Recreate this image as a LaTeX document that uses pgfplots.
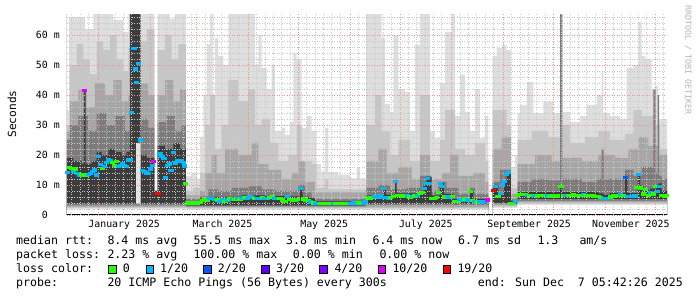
\documentclass[border=0pt]{standalone}
\usepackage{fontspec}
\usepackage{pgfplots}
\pgfplotsset{compat=1.18}
\newfontfamily\rrd{DejaVu Sans Mono}
\definecolor{cA}{HTML}{DEDEDE}
\definecolor{cB}{HTML}{C6C6C6}
\definecolor{cC}{HTML}{A6A6A6}
\definecolor{cD}{HTML}{7C7C7C}
\definecolor{cE}{HTML}{3C3C3C}
\definecolor{hole}{HTML}{E6E6E6}
\definecolor{lossg}{HTML}{26FF00}
\definecolor{lossc}{HTML}{00B8FF}
\definecolor{lossb}{HTML}{0059FF}
\definecolor{lossv}{HTML}{5E00FF}
\definecolor{lossw}{HTML}{7E00FF}
\definecolor{lossm}{HTML}{DD00FF}
\definecolor{lossr}{HTML}{FF0000}
\definecolor{mgrid}{RGB}{225,150,150}
\definecolor{sgrid}{RGB}{200,200,200}
\definecolor{arrowred}{RGB}{150,30,30}
\definecolor{wm}{RGB}{180,180,180}
\newcommand\tickfont{\rrd\fontsize{9.9}{11}\selectfont}
\newcommand\legfont{\rrd\fontsize{11.6}{13}\selectfont}
\begin{document}
\begin{tikzpicture}
\useasboundingbox (0,0) rectangle (697pt,297pt);
\begin{axis}[
  at={(67pt,82pt)}, anchor=south west,
  scale only axis, width=600pt, height=201pt,
  xmin=-18.8, xmax=341.2, ymin=0, ymax=67,
  axis line style={draw=none},
  clip=true,
  axis on top,
  major tick length=0pt, minor tick length=0pt,
  xtick={15.5,74.5,135.5,196.5,258.5,319.5},
  xticklabels={January 2025,March 2025,May 2025,July 2025,September 2025,November 2025},
  xticklabel style={font=\tickfont, anchor=base, yshift=-13pt, inner sep=0pt},
  extra x ticks={0,31,59,90,120,151,181,212,243,273,304,334},
  extra x tick labels={},
  extra x tick style={xmajorgrids=true},
  minor xtick={-16,-11,-6,5,10,15,20,25,36,41,46,51,56,64,69,74,79,84,95,100,105,110,115,125,130,135,140,145,156,161,166,171,176,186,191,196,201,206,217,222,227,232,237,248,253,258,263,268,278,283,288,293,298,309,314,319,324,329,339},
  xminorgrids=true,
  ytick={0,10,20,30,40,50,60},
  yticklabels={0\phantom{~m},10 m,20 m,30 m,40 m,50 m,60 m},
  yticklabel style={font=\tickfont, anchor=east, inner sep=0pt, xshift=-7pt},
  minor ytick={2,4,6,8,12,14,16,18,22,24,26,28,32,34,36,38,42,44,46,48,52,54,56,58,62,64,66},
  ymajorgrids=true, yminorgrids=true,
  major grid style={mgrid, line width=0.6pt, dash pattern=on 0.8pt off 1.7pt},
  minor grid style={sgrid, line width=0.6pt, dash pattern=on 0.8pt off 1.7pt},
]
% ---- smoke: lightest band top
\addplot[const plot, fill=cA, draw=none] coordinates {
(-18.8,35) (-17.5,66) (-8,62) (-3,67) (9,65) (15,61) (18,67) (33.6,8) (35.5,67) (43,65.5) (46,67)
(52.5,13) (56,14) (59,12) (61,26) (63,40) (65,57) (67,67) (68.5,34) (70,59) (72,53) (75,50) (78,67)
(94,50) (96,60) (98,49) (101,42) (104,50) (106,28) (110,29) (112,26.7) (115,31) (117,54) (119,52)
(122,29) (125,33) (128,28) (131,17) (133.5,14.5) (136,29) (138,14.4) (144,13.3) (151,12.2) (155,15.6)
(157,12.2) (160.6,67) (170,59) (172,37) (175,34.4) (177,60) (180,42) (184,41) (187,28) (190,56.7)
(193,67) (199,28) (202,25.6) (205,44) (208,61) (212,67) (214,33) (217,46.7) (220,34.4) (223,28)
(226,42) (229,25.6) (232,33) (234,0) (236.6,53) (239,55.6) (242,56.7) (245,55) (247.5,16) (250,20)
(251.5,34) (253,36.7) (257,44.4) (261,34) (267,37.8) (273,34) (277,67) (278.4,34.4) (283,31) (289,33)
(293,36.7) (299,40) (302,47.8) (303,34) (307,33) (313,32) (317,49) (321,50) (324,64.4) (326,53)
(328,52) (332,42) (334,43) (336,32) (341.2,32)} \closedcycle;
% ---- band 2
\addplot[const plot, fill=cB, draw=none] coordinates {
(-18.8,30) (-17,50) (-13,57) (-9,52) (-5,47) (-1,58) (3,55) (7,60) (11,52) (15,48) (18,56) (25,58)
(29,62) (33.6,8) (35.5,55) (40,60) (44,52) (48,57) (52.5,8) (57,9) (61,14) (64,30) (67,40) (70,22)
(74,30) (78,45) (84,38) (90,42) (94,30) (98,32) (103,24) (108,18) (114,20) (119,30) (122,18) (128,17)
(131,9) (136,12) (138,8.5) (160.6,30) (166,40) (170,28) (175,20) (180,25) (187,18) (193,40) (199,18)
(205,25) (208,35) (214,22) (220,20) (226,24) (232,18) (234,0) (236.6,35) (245,30) (247.5,9)
(251.5,25) (260,28) (270,26) (277,30) (283,24) (292,26) (300,28) (307,25) (316,27) (321,35) (326,33)
(334,30) (337,22) (341.2,22)} \closedcycle;
% ---- band 3
\addplot[const plot, fill=cC, draw=none] coordinates {
(-18.8,28) (-17,38) (-12,42) (-7,36) (-2,44) (4,40) (9,45) (14,38) (18,40) (25,44) (30,40) (33.6,8)
(35.5,40) (40,45) (45,38) (49,42) (52.5,6.5) (61,8) (64,14) (68,20) (71,14) (76,22) (84,20) (92,24)
(96,17) (102,15) (110,12) (116,14) (120,18) (124,11) (130,7.5) (160.6,18) (168,22) (173,14) (180,16)
(188,12) (193,20) (199,12) (206,14) (211,20) (216,13) (225,14) (232,11) (234,0) (236.6,22) (242,26)
(247.5,7) (251.5,17) (262,20) (272,18) (277,19) (290,18) (300,20) (310,19) (318,22) (324,26) (330,23)
(336,20) (341.2,18)} \closedcycle;
% ---- band 4
\addplot[const plot, fill=cD, draw=none] coordinates {
(-18.8,25) (-17,30) (-12,33) (-6,28) (-1,34) (5,30) (10,33) (16,28) (19,30) (26,32) (30,29) (33.6,8)
(35.5,31) (41,33) (46,28) (50,30) (52.5,5.3) (61,6.2) (66,8.5) (72,8) (80,9) (90,9.5) (98,8.5) (106,8)
(114,8) (120,10) (124,7.5) (128,6) (130,5.3) (160.6,9) (168,10) (175,8.5) (185,9) (193,13) (199,8)
(204,11) (209,9) (216,7) (223,9) (226,7) (234,0) (236.6,11) (241,15) (247.5,5.2) (251.5,11) (260,12)
(270,11.5) (277,67) (278.4,12) (290,11) (299,12) (302,22) (303.2,12) (310,12) (316,15) (321,13)
(326,16) (333,42) (334.4,14) (335.5,40) (336.5,13) (338,12) (341.2,12)} \closedcycle;
% ---- darkest band
\addplot[const plot, fill=cE, draw=none] coordinates {
(-18.8,19) (-15,18) (-10,17) (-8.6,41.5) (-7.6,17) (-4,18) (-1,21) (2,20) (6,22) (10,21) (14,20)
(17,21) (19,67) (25.3,20) (29,19) (33.6,8) (35.5,23) (40,22) (45,24) (49,22) (52.5,4.6) (61,5.5)
(70,6) (86,6.5) (100,6.3) (114,6.2) (121,9) (122.5,6) (127,5.5) (130,4.5) (157,4.4) (161,6.5) (171,9)
(172.5,6.8) (178,11.5) (179,7.2) (192,8) (195,10) (197,12.8) (200,6.5) (205,10.8) (207.5,7) (213,5.3)
(217,5.8) (223,8.2) (225,5.3) (234,0) (236.6,9) (238,10) (240,7) (243,11.5) (245,14.5) (247.5,4.6)
(251.5,7.6) (277,9.8) (278.4,7.6) (300,7.2) (303,6.8) (307,7.4) (316,13) (317.4,7.3) (323.6,14)
(325,9.8) (327,8.2) (331,8.8) (334,10) (336,10.5) (338,8) (341.2,8)} \closedcycle;
% ---- light hole under the tall dark column
\addplot[const plot, fill=hole, draw=none] coordinates {(22.6,24) (25.3,24)} \closedcycle;
% ---- lower edge of the smoke
\addplot[const plot, fill=cD, draw=none] coordinates {
(-18.8,3.8) (52.5,3.2) (160.6,3.8) (234,0) (236.6,4.0) (248,3.2) (251.5,5.3) (341.2,5.3)} \closedcycle;
\addplot[const plot, fill=cC, draw=none] coordinates {
(-18.8,3.2) (52.5,2.9) (160.6,3.3) (234,0) (236.6,3.6) (251.5,4.7) (341.2,4.7)} \closedcycle;
\addplot[const plot, fill=cB, draw=none] coordinates {
(-18.8,2.7) (52.5,2.5) (234,0) (236.6,3.2) (251.5,4.2) (341.2,4.2)} \closedcycle;
\addplot[const plot, fill=cA, draw=none] coordinates {
(-18.8,2.3) (52.5,2.2) (234,0) (236.6,2.8) (251.5,3.8) (341.2,3.8)} \closedcycle;
\addplot[const plot, fill=white, draw=none] coordinates {
(-18.8,1.9) (52.5,1.8) (234,0) (236.6,2.4) (251.5,3.4) (341.2,3.4)} \closedcycle;
% ---- median coloured by loss
\addplot[scatter, only marks, mark=square*, mark size=1.1pt,
  mark options={xscale=1.9, line width=0pt},
  point meta=explicit symbolic,
  scatter/classes={
    g={mark=square*, lossg},
    c={mark=square*, lossc},
    b={mark=square*, lossb},
    m={mark=square*, lossm},
    r={mark=square*, lossr}}]
coordinates {
(-18.5,14.2)[c] (-17.5,15.9)[g] (-16.2,15.6)[g] (-15,14.6)[c] (-13.8,15.3)[g] (-12.5,13.8)[c]
(-11.2,13.3)[c] (-10,13.4)[g] (-8.8,13.3)[g] (-8.1,41.5)[m] (-7.2,13.3)[g] (-6,13.5)[c] (-4.8,13.9)[c]
(-3.6,14.6)[c] (-2.4,15.0)[c] (-1.2,13.3)[c] (0,19.5)[c] (1.2,16.8)[c] (2.4,15.6)[g] (3.6,16.2)[c]
(4.8,17.6)[c] (6,18.6)[c] (7.2,18.2)[c] (8.4,17.5)[g] (9.6,16.6)[g] (10.8,17.9)[g] (12,16.2)[c]
(13.2,16.4)[c] (14.4,17.2)[c] (15.6,16.5)[c] (16.8,16.2)[c] (18,18.3)[c] (19.2,18.6)[c] (20,34.3)[c]
(21.4,55.5)[c] (22.4,48.7)[c] (23,44.1)[c] (24.3,50.6)[c] (25.2,25)[c] (26.4,14.8)[c] (27.6,14.5)[c]
(28.8,14.0)[c] (30,13.9)[c] (31.2,15.3)[c] (32.4,16.4)[c] (33.3,17.7)[m] (35.8,7.2)[r] (37,20.3)[c]
(38.2,19.6)[c] (39.4,18.7)[c] (40.5,12.5)[c] (41.6,16.6)[c] (42.8,17.0)[c] (43.6,14.8)[c] (45,20.8)[c]
(46.3,17.3)[c] (47.5,18.1)[c] (48.7,18.0)[c] (49.9,18.0)[c] (51,17.6)[c] (51.8,16.3)[c] (52.4,10.6)[g]
(53.5,4.0)[g] (55,3.9)[g] (56.5,4.0)[g] (58,3.8)[g] (59.5,4.0)[g] (61,4.2)[g] (62.5,4.8)[g] (64,5.2)[g]
(65.5,4.8)[g] (67,5.6)[c] (68.5,5.4)[c] (70,5.1)[c] (71.5,5.0)[g] (73,4.6)[c] (74.5,5.0)[c] (76,4.4)[g]
(77.5,5.0)[c] (79,5.3)[g] (80.5,5.2)[c] (82,5.2)[g] (83.5,5.4)[c] (85,5.1)[g] (86.5,5.6)[c] (88,5.9)[g]
(89.5,5.6)[c] (91,6.0)[c] (92.5,5.7)[c] (94,5.5)[g] (95.5,5.6)[c] (97,5.5)[c] (98.5,5.8)[g] (100,5.5)[c]
(101.5,5.6)[c] (103,5.8)[g] (104.5,6.2)[g] (106,5.6)[c] (107.5,5.4)[c] (109,5.5)[g] (110.5,5.0)[g]
(112,4.5)[g] (113.5,6.2)[c] (115,5.2)[g] (116.5,4.9)[g] (118,5.0)[g] (119.5,5.2)[g] (121.5,8.8)[c]
(123,5.3)[g] (124.5,5.0)[g] (126,4.9)[g] (127.5,4.3)[c] (129,4.0)[g] (130.5,3.9)[c] (132,3.8)[c]
(133.5,3.8)[g] (135,3.9)[g] (136.5,3.8)[g] (138,3.8)[g] (139.5,3.9)[g] (141,3.8)[c] (142.5,3.9)[g]
(144,3.8)[g] (145.5,3.8)[g] (147,3.9)[g] (148.5,3.8)[g] (150,3.9)[g] (151.5,3.9)[c] (153,4.0)[c]
(154.5,3.9)[c] (156,4.1)[g] (157.5,3.9)[g] (159,4.0)[c] (160.5,4.6)[c]
(161.5,5.8)[g] (163,5.5)[g] (164.5,5.8)[g] (166,6.1)[c] (167.5,6.0)[c] (169,6.3)[c] (170.2,5.8)[c]
(171.3,8.9)[c] (172.5,5.7)[c] (174,5.4)[c] (175.5,5.9)[g] (177,6.1)[g] (178.3,11.1)[c] (179.5,6.4)[g]
(181,6.4)[g] (182.5,6.2)[g] (184,6.5)[g] (185.5,6.3)[c] (187,6.0)[g] (188.5,6.2)[c] (190,6.3)[g]
(191.5,6.6)[c] (193,7.2)[g] (194.3,7.6)[g] (195.5,8.9)[c] (196.5,10.5)[c] (197.5,12.2)[c] (198.7,10.5)[c]
(200,5.6)[g] (201.5,5.5)[g] (203,5.8)[g] (204.3,7.5)[g] (205.5,10.6)[c] (206.6,9.4)[c] (208,6.0)[g]
(209.5,6.2)[c] (211,6.0)[c] (212.5,6.1)[g] (214,4.6)[g] (215.5,4.4)[g] (217,5.2)[c] (218.5,5.0)[c]
(220,5.3)[g] (221.5,5.0)[c] (223.3,7.8)[g] (224.6,4.8)[g] (226,4.5)[c] (227.5,4.3)[g] (229,4.6)[c]
(230.5,4.3)[c] (232,4.4)[c] (233.3,5.0)[m]
(237.2,8.1)[r] (238.5,9.4)[c] (239.8,6.1)[g] (241.2,7.2)[c] (242.5,10.0)[c] (243.8,11.1)[c] (245,13.6)[c]
(246.2,14.2)[c] (247.5,3.9)[g] (248.8,3.8)[g] (250.2,4.5)[c]
(251.5,6.6)[g] (253,6.7)[g] (254.5,6.8)[g] (256,6.9)[g] (257.5,6.5)[c] (259,6.4)[g] (260.5,6.6)[g]
(262,6.6)[c] (263.5,6.3)[g] (265,6.5)[g] (266.5,6.4)[g] (268,6.6)[g] (269.5,6.3)[c] (271,6.2)[g]
(272.5,6.4)[g] (274,6.5)[g] (275.5,6.3)[g] (277.6,9.4)[g] (279,6.6)[g] (280.5,6.4)[c] (282,6.5)[g]
(283.5,6.5)[g] (285,6.7)[g] (286.5,6.4)[g] (288,6.5)[g] (289.5,6.4)[g] (291,6.9)[c] (292.5,6.6)[g]
(294,6.4)[g] (295.5,6.5)[g] (297,6.3)[g] (298.5,6.2)[g] (300,6.1)[g] (301.5,5.8)[g] (303,5.6)[c]
(304.5,5.5)[c] (306,5.6)[c] (307.5,6.0)[g] (309,6.4)[g] (310.5,6.3)[g] (312,6.5)[g] (313.5,6.7)[c]
(315,6.4)[g] (316.5,12.6)[b] (317.7,6.1)[c] (319,6.1)[c] (320.5,6.2)[c] (322,6.3)[c] (323,9.1)[g]
(324.2,13.4)[c] (325.5,9.0)[g] (327,7.0)[g] (328.5,8.5)[g] (330,6.5)[g] (331.5,7.5)[c] (333,7.0)[g]
(334.2,9.5)[g] (335.5,7.8)[c] (336.8,9.5)[c] (338.2,6.6)[g] (339.6,6.3)[g] (340.8,6.4)[g]};
% ---- axis lines with arrow heads
\draw[black, line width=1pt] ([xshift=-5pt]rel axis cs:0,0) -- ([xshift=2pt]rel axis cs:1,0);
\draw[black, line width=1pt] ([yshift=-4pt]rel axis cs:0,0) -- ([yshift=1.5pt]rel axis cs:0,1);
\fill[arrowred] ([xshift=2pt]rel axis cs:1,0) ++(0,2.5pt) -- ++(5.5pt,-2.5pt) -- ++(-5.5pt,-2.5pt) -- cycle;
\fill[arrowred] ([yshift=1.5pt]rel axis cs:0,1) ++(-2.5pt,0) -- ++(2.5pt,5pt) -- ++(2.5pt,-5pt) -- cycle;
\end{axis}
% ---- y label and watermark
\node[rotate=90, font=\rrd\fontsize{11.2}{13}\selectfont, inner sep=0] at (12pt,183pt) {Seconds};
\node[rotate=-90, font=\rrd\fontsize{8.3}{10}\selectfont, text=wm, inner sep=0] at (688pt,237pt) {RRDTOOL / TOBI OETIKER};
% ---- legend rows
\begin{scope}[every node/.style={anchor=base west, inner sep=0, font=\legfont}]
\node at (16pt,52.5pt) {median rtt:};
\node at (107.3pt,52.5pt) {8.4 ms avg};
\node at (193.3pt,52.5pt) {55.5 ms max};
\node at (286pt,52.5pt) {3.8 ms min};
\node at (372.3pt,52.5pt) {6.4 ms now};
\node at (458pt,52.5pt) {6.7 ms sd};
\node at (537.3pt,52.5pt) {1.3};
\node at (579.3pt,52.5pt) {am/s};
\node at (16pt,38.4pt) {packet loss:};
\node at (107.3pt,38.4pt) {2.23 \% avg};
\node at (193.3pt,38.4pt) {100.00 \% max};
\node at (292.7pt,38.4pt) {0.00 \% min};
\node at (379.3pt,38.4pt) {0.00 \% now};
\node at (16pt,24.3pt) {loss color:};
\node at (122.7pt,24.3pt) {0};
\node at (160pt,24.3pt) {1/20};
\node at (217.7pt,24.3pt) {2/20};
\node at (276pt,24.3pt) {3/20};
\node at (334.3pt,24.3pt) {4/20};
\node at (392.3pt,24.3pt) {10/20};
\node at (457.3pt,24.3pt) {19/20};
\node at (16pt,10.2pt) {probe:};
\node at (107.3pt,10.2pt) {20 ICMP Echo Pings (56 Bytes) every 300s};
\node at (477.7pt,10.2pt) {end: Sun Dec~~7 05:42:26 2025};
\end{scope}
\begin{scope}[line width=0.8pt]
\filldraw[fill=lossg, draw=black] (108.8pt,24pt) rectangle ++(7.5pt,7.5pt);
\filldraw[fill=lossc, draw=black] (146.2pt,24pt) rectangle ++(7.5pt,7.5pt);
\filldraw[fill=lossb, draw=black] (203.8pt,24pt) rectangle ++(7.5pt,7.5pt);
\filldraw[fill=lossv, draw=black] (261.8pt,24pt) rectangle ++(7.5pt,7.5pt);
\filldraw[fill=lossw, draw=black] (319.8pt,24pt) rectangle ++(7.5pt,7.5pt);
\filldraw[fill=lossm, draw=black] (378.2pt,24pt) rectangle ++(7.5pt,7.5pt);
\filldraw[fill=lossr, draw=black] (443.2pt,24pt) rectangle ++(7.5pt,7.5pt);
\end{scope}
\end{tikzpicture}
\end{document}
